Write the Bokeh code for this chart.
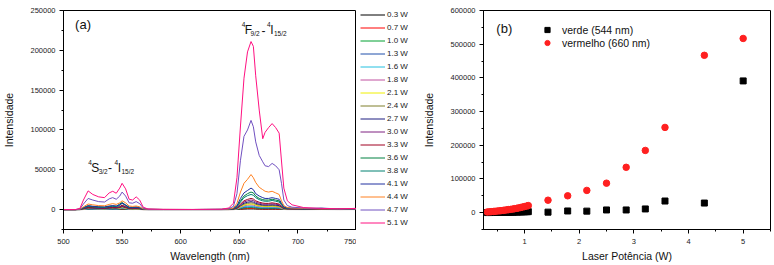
from bokeh.plotting import figure
from bokeh.layouts import row
from bokeh.models import (Range1d, SingleIntervalTicker, Legend, LegendItem, Label,
                          BasicTickFormatter, ColumnDataSource)
from bokeh.embed import file_html
from bokeh.resources import INLINE

# ---------------- data: panel (a) ----------------
wavelength = [500, 510, 514, 517, 521, 525, 530, 535, 539, 542, 545, 548, 550, 553, 556,
              559, 562, 565, 568, 572, 585, 610, 635, 641, 645, 648, 651, 654, 657, 660,
              662, 664, 667, 670, 672, 675, 678, 681, 684, 686, 688, 691, 695, 705, 720,
              735, 750]

power_labels = ["0.3 W", "0.7 W", "1.0 W", "1.3 W", "1.6 W", "1.8 W", "2.1 W", "2.4 W",
                "2.7 W", "3.0 W", "3.3 W", "3.6 W", "3.8 W", "4.1 W", "4.4 W", "4.7 W", "5.1 W"]

s_03 = [0,0,10,80,170, 140,120,110,140,170, 140,210,320,210,100, 90,110,80,20,10, 10,10,10,20,40,
        140,400,640,730,800, 750,620,530,470,450, 450,490,450,400,260, 100,70,60,50,80, 40,60]
s_07 = [0,0,20,160,320, 270,230,210,270,320, 270,400,600,400,200, 180,210,160,40,20, 20,20,20,40,80,
        270,750,1200,1380,1500, 1400,1170,1000,880,840, 840,920,840,750,480, 200,130,120,100,150, 80,120]
s_10 = [0,0,40,270,550, 460,390,360,460,550, 460,680,1000,680,340, 310,360,270,70,40, 40,40,40,60,140,
        450,1250,2000,2300,2500, 2350,1950,1650,1450,1400, 1400,1500,1400,1250,800, 330,220,200,180,250, 100,200]
s_13 = [0,0,50,380,750, 650,550,500,650,750, 650,950,1400,950,480, 430,500,380,100,50, 50,50,50,80,200,
        620,1750,2800,3200,3500, 3300,2700,2300,2000,1900, 1900,2100,1900,1700,1100, 450,300,280,250,350, 150,300]
s_16 = [0,0,60,500,1000, 850,700,650,850,1000, 850,1200,1800,1200,600, 550,650,500,130,60, 60,60,60,100,250,
        800,2300,3600,4100,4500, 4200,3500,3000,2600,2500, 2500,2800,2500,2200,1400, 600,400,350,300,400, 200,350]
s_18 = [0,0,80,650,1300, 1100,950,900,1100,1300, 1100,1600,2400,1600,800, 700,850,650,180,80, 80,80,80,120,350,
        1100,3000,4800,5500,6000, 5600,4700,3900,3500,3300, 3300,3700,3300,3000,1900, 800,500,450,350,500, 250,450]
s_21 = [0,0,100,750,1500, 1300,1100,1000,1300,1500, 1300,1900,2800,1900,900, 850,1000,750,200,100, 100,100,100,150,400,
        1250,3500,5600,6400,7000, 6600,5500,4600,4100,3900, 3900,4300,3900,3500,2200, 900,600,500,400,600, 300,500]
s_24 = [0,0,120,900,1800, 1600,1300,1200,1600,1800, 1600,2300,3300,2300,1100, 1000,1200,900,250,100, 100,100,100,200,500,
        1500,4200,6800,7800,8500, 8000,6600,5600,5000,4800, 4800,5200,4800,4300,2700, 1100,800,700,500,700, 400,600]
s_27 = [0,0,150,1100,2200, 1900,1600,1500,1900,2200, 1900,2700,4000,2700,1300, 1200,1400,1100,300,100, 100,100,100,200,600,
        1800,5000,8000,9200,10000, 9400,7800,6600,5900,5600, 5600,6100,5600,5000,3200, 1300,900,800,600,800, 500,700]
s_30 = [0,0,200,1300,2600, 2200,1900,1800,2300,2600, 2300,3200,4700,3200,1600, 1500,1700,1300,350,100, 100,100,150,250,700,
        2200,6000,9500,11000,12000, 11300,9400,7900,7000,6700, 6700,7300,6700,6000,3900, 1600,1000,900,700,900, 500,800]
s_33 = [0,0,200,1500,3000, 2600,2200,2000,2700,3000, 2700,3700,5500,3700,1800, 1700,2000,1500,400,150, 100,100,150,300,800,
        2600,7000,11000,12800,14000, 13200,11000,9200,8200,7800, 7800,8500,7800,7000,4500, 1900,1200,1000,800,1000, 600,900]
s_36 = [0,0,300,2200,4500, 3800,3200,3000,4000,4500, 4000,7000,9000,5500,2700, 2500,3000,2200,600,200, 100,100,200,400,1200,
        4000,11000,17000,20000,22000, 21000,17000,14000,12500,12000, 12000,13000,12000,11000,7000, 3000,1800,1400,1000,1500, 800,1200]
s_38 = [0,0,300,2000,4000, 3400,2900,2700,3600,4000, 3600,5000,8000,5000,2500, 2300,2700,2000,500,200, 100,100,200,400,1100,
        3500,9500,15000,17500,19000, 18000,15000,12500,11000,10500, 10500,11500,10500,9500,6000, 2500,1600,1300,1000,1300, 700,1100]
s_41 = [0,0,300,2500,5000, 4200,3500,3300,4500,5000, 4500,6000,8000,6000,3000, 2800,3200,2500,700,200, 100,100,200,500,1500,
        5000,14000,21000,24000,27000, 25000,20000,17000,15000,14000, 14000,15000,14000,13000,8000, 3500,2000,1500,1200,1800, 900,1500]
s_44 = [0,0,400,3500,7000, 6000,5000,4800,6500,7500, 6500,8500,11000,8500,4500, 4000,4500,3500,1000,300, 200,100,200,600,2000,
        8000,22000,33000,38000,44000, 40000,34000,28000,25000,23000, 22000,23000,21000,19000,11000, 5000,2500,2000,1500,1000, 800,1200]
s_47 = [0,0,800,7000,14000, 12000,10000,9500,13500,15000, 13000,17000,22000,17000,8500, 8000,10000,7500,2000,500, 200,100,300,1200,4000,
        20000,62000,92000,100000,112000, 104000,85000,68000,60000,55000, 54000,58000,55000,50000,33000, 12000,5000,3000,2000,1200, 800,1000]
s_51 = [0,0,1500,12000,23500, 19000,16000,15000,21000,23000, 20500,27000,33000,26000,13000, 12000,16000,12000,3000,800, 300,200,500,2000,8000,
        40000,105000,165000,198000,211000, 205000,168000,125000,89000,97000, 103000,108000,103000,96000,61000, 27000,11000,6000,2500,1500, 1000,1500]

spectra = [s_03, s_07, s_10, s_13, s_16, s_18, s_21, s_24, s_27, s_30, s_33, s_36, s_38,
           s_41, s_44, s_47, s_51]

line_colors = ["#000000", "#FF0000", "#00A030", "#1F4EAA", "#22C0E0", "#C050A0", "#F0F000",
               "#7F7F2A", "#1C1C80", "#7F2080", "#A00020", "#008040", "#008070", "#2030A0",
               "#FF8020", "#7050C0", "#FF1080"]

# ---------------- data: panel (b) ----------------
laser_power = [0.32, 0.36, 0.39, 0.43, 0.46, 0.50, 0.54, 0.57, 0.61, 0.64, 0.68, 0.71, 0.75,
               0.79, 0.82, 0.86, 0.89, 0.93, 0.96, 1.00, 1.04, 1.07,
               1.43, 1.79, 2.14, 2.50, 2.86, 3.21, 3.57, 4.29, 5.00]
verde = [300, 350, 400, 450, 500, 600, 700, 800, 900, 1000, 1100, 1250, 1400, 1550, 1700,
         1850, 2000, 2200, 2400, 2600, 2800, 3000,
         1500, 5000, 4500, 8000, 8000, 11000, 34500, 28500, 391000]
vermelho = [2000, 2500, 3000, 3500, 4000, 4700, 5300, 6000, 6700, 7500, 8300, 9000, 9800,
            10800, 11800, 12800, 14000, 15200, 16500, 18000, 19500, 21000,
            37000, 50000, 66000, 87500, 134600, 184700, 253000, 467000, 517000]

FONT = "Liberation Sans"


def style_axes(p, xint, yint):
    p.xgrid.visible = False
    p.ygrid.visible = False
    p.outline_line_color = "black"
    p.outline_line_width = 1
    p.xaxis.ticker = SingleIntervalTicker(interval=xint, num_minor_ticks=2)
    p.yaxis.ticker = SingleIntervalTicker(interval=yint, num_minor_ticks=2)
    p.yaxis.formatter = BasicTickFormatter(use_scientific=False)
    for ax in (p.xaxis[0], p.yaxis[0]):
        ax.axis_line_color = "black"
        ax.major_tick_line_color = "black"
        ax.minor_tick_line_color = "black"
        ax.major_tick_in = 0
        ax.major_tick_out = 4
        ax.minor_tick_in = 0
        ax.minor_tick_out = 2
        ax.major_label_text_font = FONT
        ax.major_label_text_font_size = "7.5px"
        ax.major_label_text_color = "#222222"
        ax.axis_label_text_font = FONT
        ax.axis_label_text_font_size = "10.5px"
        ax.axis_label_text_font_style = "normal"
        ax.axis_label_text_color = "#111111"
    p.xaxis.major_label_standoff = 5
    p.xaxis.axis_label_standoff = 3
    p.yaxis.major_label_standoff = 4
    p.yaxis.axis_label_standoff = 12


# ---------------- panel (a) ----------------
p1 = figure(width=356, height=265, x_range=Range1d(500, 750), y_range=Range1d(-25000, 250000),
            output_backend="svg", toolbar_location=None,
            min_border_left=61, min_border_right=0, min_border_top=10, min_border_bottom=36)
style_axes(p1, 50, 50000)
p1.xaxis.axis_label = "Wavelength (nm)"
p1.yaxis.axis_label = "Intensidade"

sources = []
for ys, col in zip(spectra, line_colors):
    src = ColumnDataSource(dict(x=wavelength, y=ys))
    sources.append(src)
    p1.line("x", "y", source=src, line_color=col, line_width=1)

p1.add_layout(Label(x=509.9, y=232500, text="(a)", text_font=FONT, text_font_size="13px",
                    text_baseline="middle", text_color="#111111"))

# transition labels: (text, x, y, size)
trans = [("4", 652.1, 232500, "6.5px"), ("F", 654.6, 225000, "12px"), ("9/2", 659.6, 221200, "6.5px"),
         ("-", 669.0, 225000, "12px"), ("4", 673.7, 232500, "6.5px"), ("I", 676.4, 225000, "12px"),
         ("15/2", 679.6, 221200, "6.5px"),
         ("4", 521.2, 59400, "6.5px"), ("S", 523.7, 52500, "12px"), ("3/2", 530.0, 47500, "6.5px"),
         ("-", 538.0, 52500, "12px"), ("4", 543.5, 59400, "6.5px"), ("I", 546.2, 52500, "12px"),
         ("15/2", 549.4, 47500, "6.5px")]
for t, xx, yy, sz in trans:
    p1.add_layout(Label(x=xx, y=yy, text=t, text_font=FONT, text_font_size=sz,
                        text_baseline="alphabetic", text_color="#111111"))

# ---------------- legend of panel (a) in its own strip ----------------
pl = figure(width=64, height=265, x_range=Range1d(0, 1), y_range=Range1d(0, 1),
            output_backend="svg", toolbar_location=None,
            x_axis_location=None, y_axis_location=None,
            min_border_left=0, min_border_right=0, min_border_top=0, min_border_bottom=0)
pl.xgrid.visible = False
pl.ygrid.visible = False
pl.outline_line_color = None
items = []
for lab, col, src in zip(power_labels, line_colors, sources):
    # same spectra, lying outside this strip's range: only the legend glyph shows
    r = pl.line("x", "y", source=src, line_color=col, line_width=1)
    items.append(LegendItem(label=lab, renderers=[r]))
leg1 = Legend(items=items, location=(4, 0), orientation="vertical", padding=0, margin=0,
              spacing=0, label_height=13, glyph_height=13, glyph_width=25, label_standoff=2,
              label_text_font=FONT, label_text_font_size="8px", label_text_color="#222222",
              border_line_color=None, background_fill_alpha=0)
pl.add_layout(leg1)

# ---------------- panel (b) ----------------
p2 = figure(width=354, height=265, x_range=Range1d(0.25, 5.5), y_range=Range1d(-50000, 600000),
            output_backend="svg", toolbar_location=None,
            min_border_left=61, min_border_right=4, min_border_top=7, min_border_bottom=36)
style_axes(p2, 1, 100000)
p2.xaxis.axis_label = "Laser Potência (W)"
p2.yaxis.axis_label = "Intensidade"

src2 = ColumnDataSource(dict(x=laser_power, verde=verde, vermelho=vermelho))
rv = p2.scatter("x", "verde", source=src2, marker="square", size=6, fill_color="black",
                line_color="black")
rr = p2.scatter("x", "vermelho", source=src2, marker="circle", size=6.5, fill_color="#FF2020",
                line_color="#FF2020")

leg2 = Legend(items=[LegendItem(label="verde (544 nm)", renderers=[rv]),
                     LegendItem(label="vermelho (660 nm)", renderers=[rr])],
              location=(57, 180), padding=0, margin=0, spacing=0, label_height=13,
              glyph_height=13, glyph_width=14, label_standoff=8,
              label_text_font=FONT, label_text_font_size="10.5px", label_text_color="#111111",
              border_line_color=None, background_fill_alpha=0)
p2.add_layout(leg2)

p2.add_layout(Label(x=0.485, y=546400, text="(b)", text_font=FONT, text_font_size="13px",
                    text_baseline="middle", text_color="#111111"))

layout = row(p1, pl, p2)

with open("out.html", "w") as f:
    f.write(file_html(layout, INLINE))
